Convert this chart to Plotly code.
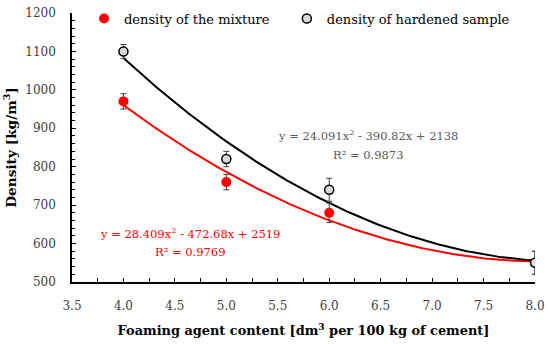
import numpy as np
import plotly.graph_objects as go

x_vals = [4.0, 5.0, 6.0, 8.0]
mixture = [970, 760, 680, 550]
mixture_err = [20, 20, 25, 30]
hardened = [1100, 820, 740, 550]
hardened_err = [18, 20, 30, 30]

mix_eq = "y = 28.409x<sup>2</sup> - 472.68x + 2519"
mix_r2 = "R² = 0.9769"
hard_eq = "y = 24.091x<sup>2</sup> - 390.82x + 2138"
hard_r2 = "R² = 0.9873"

FONT = "DejaVu Serif"

xs = np.linspace(4.0, 8.0, 200)
cm = np.polyfit(x_vals, mixture, 2)
ch = np.polyfit(x_vals, hardened, 2)

fig = go.Figure()
fig.add_trace(go.Scatter(x=xs, y=np.polyval(cm, xs), mode="lines",
                         line=dict(color="#ff0000", width=2), showlegend=False, hoverinfo="skip"))
fig.add_trace(go.Scatter(x=xs, y=np.polyval(ch, xs), mode="lines",
                         line=dict(color="#000000", width=2), showlegend=False, hoverinfo="skip"))
fig.add_trace(go.Scatter(x=x_vals, y=mixture, mode="markers", name="density of the mixture",
                         marker=dict(color="#ff0000", size=10), legend="legend",
                         error_y=dict(type="data", array=mixture_err, color="#404040", thickness=1, width=3)))
fig.add_trace(go.Scatter(x=x_vals, y=hardened, mode="markers", name="density of hardened sample",
                         marker=dict(color="#d9d9d9", size=9, line=dict(color="#000000", width=1.5)),
                         legend="legend2",
                         error_y=dict(type="data", array=hardened_err, color="#404040", thickness=1, width=3)))

fig.add_annotation(x=6.38, y=880, text=hard_eq, showarrow=False, font=dict(color="#595959", size=11.5, family=FONT))
fig.add_annotation(x=6.38, y=830, text=hard_r2, showarrow=False, font=dict(color="#595959", size=11.5, family=FONT))
fig.add_annotation(x=4.65, y=627, text=mix_eq, showarrow=False, font=dict(color="#ff0000", size=11.5, family=FONT))
fig.add_annotation(x=4.65, y=578, text=mix_r2, showarrow=False, font=dict(color="#ff0000", size=11.5, family=FONT))

leg_common = dict(orientation="h", y=1.035, xanchor="left", yanchor="top",
                  font=dict(size=13, color="#000000"), bgcolor="rgba(0,0,0,0)",
                  itemwidth=30)

fig.update_layout(
    width=550, height=344,
    margin=dict(l=72, r=15, t=13, b=62, autoexpand=False),
    paper_bgcolor="white", plot_bgcolor="white",
    font=dict(family=FONT, size=12, color="#404040"),
    legend=dict(x=0.026, **leg_common),
    legend2=dict(x=0.464, **leg_common),
    xaxis=dict(range=[3.5, 8.0], dtick=0.5, tick0=3.5, tickformat=".1f",
               showgrid=False, zeroline=False, showline=True, linecolor="black", linewidth=1.5,
               ticks="inside", ticklen=4, tickcolor="black", ticklabelstandoff=12,
               minor=dict(dtick=0.25, ticks="inside", ticklen=4, tickcolor="black"),
               title=dict(text="<b>Foaming agent content [dm<sup>3</sup> per 100 kg of cement]</b>",
                          font=dict(size=12.9, color="#000000"), standoff=14),
               tickfont=dict(size=12, color="#404040")),
    yaxis=dict(range=[500, 1200], dtick=100, showgrid=False, zeroline=False,
               showline=True, linecolor="black", linewidth=1.5,
               ticks="inside", ticklen=4, tickcolor="black", ticklabelstandoff=12,
               minor=dict(dtick=20, ticks="inside", ticklen=3, tickcolor="black"),
               title=dict(text="<b>Density [kg/m<sup>3</sup>]</b>", font=dict(size=13.7, color="#000000"), standoff=6),
               tickfont=dict(size=12, color="#404040")),
)

fig.write_html("out.html", config={"displayModeBar": False},
               post_script="document.body.style.margin='0px';")
